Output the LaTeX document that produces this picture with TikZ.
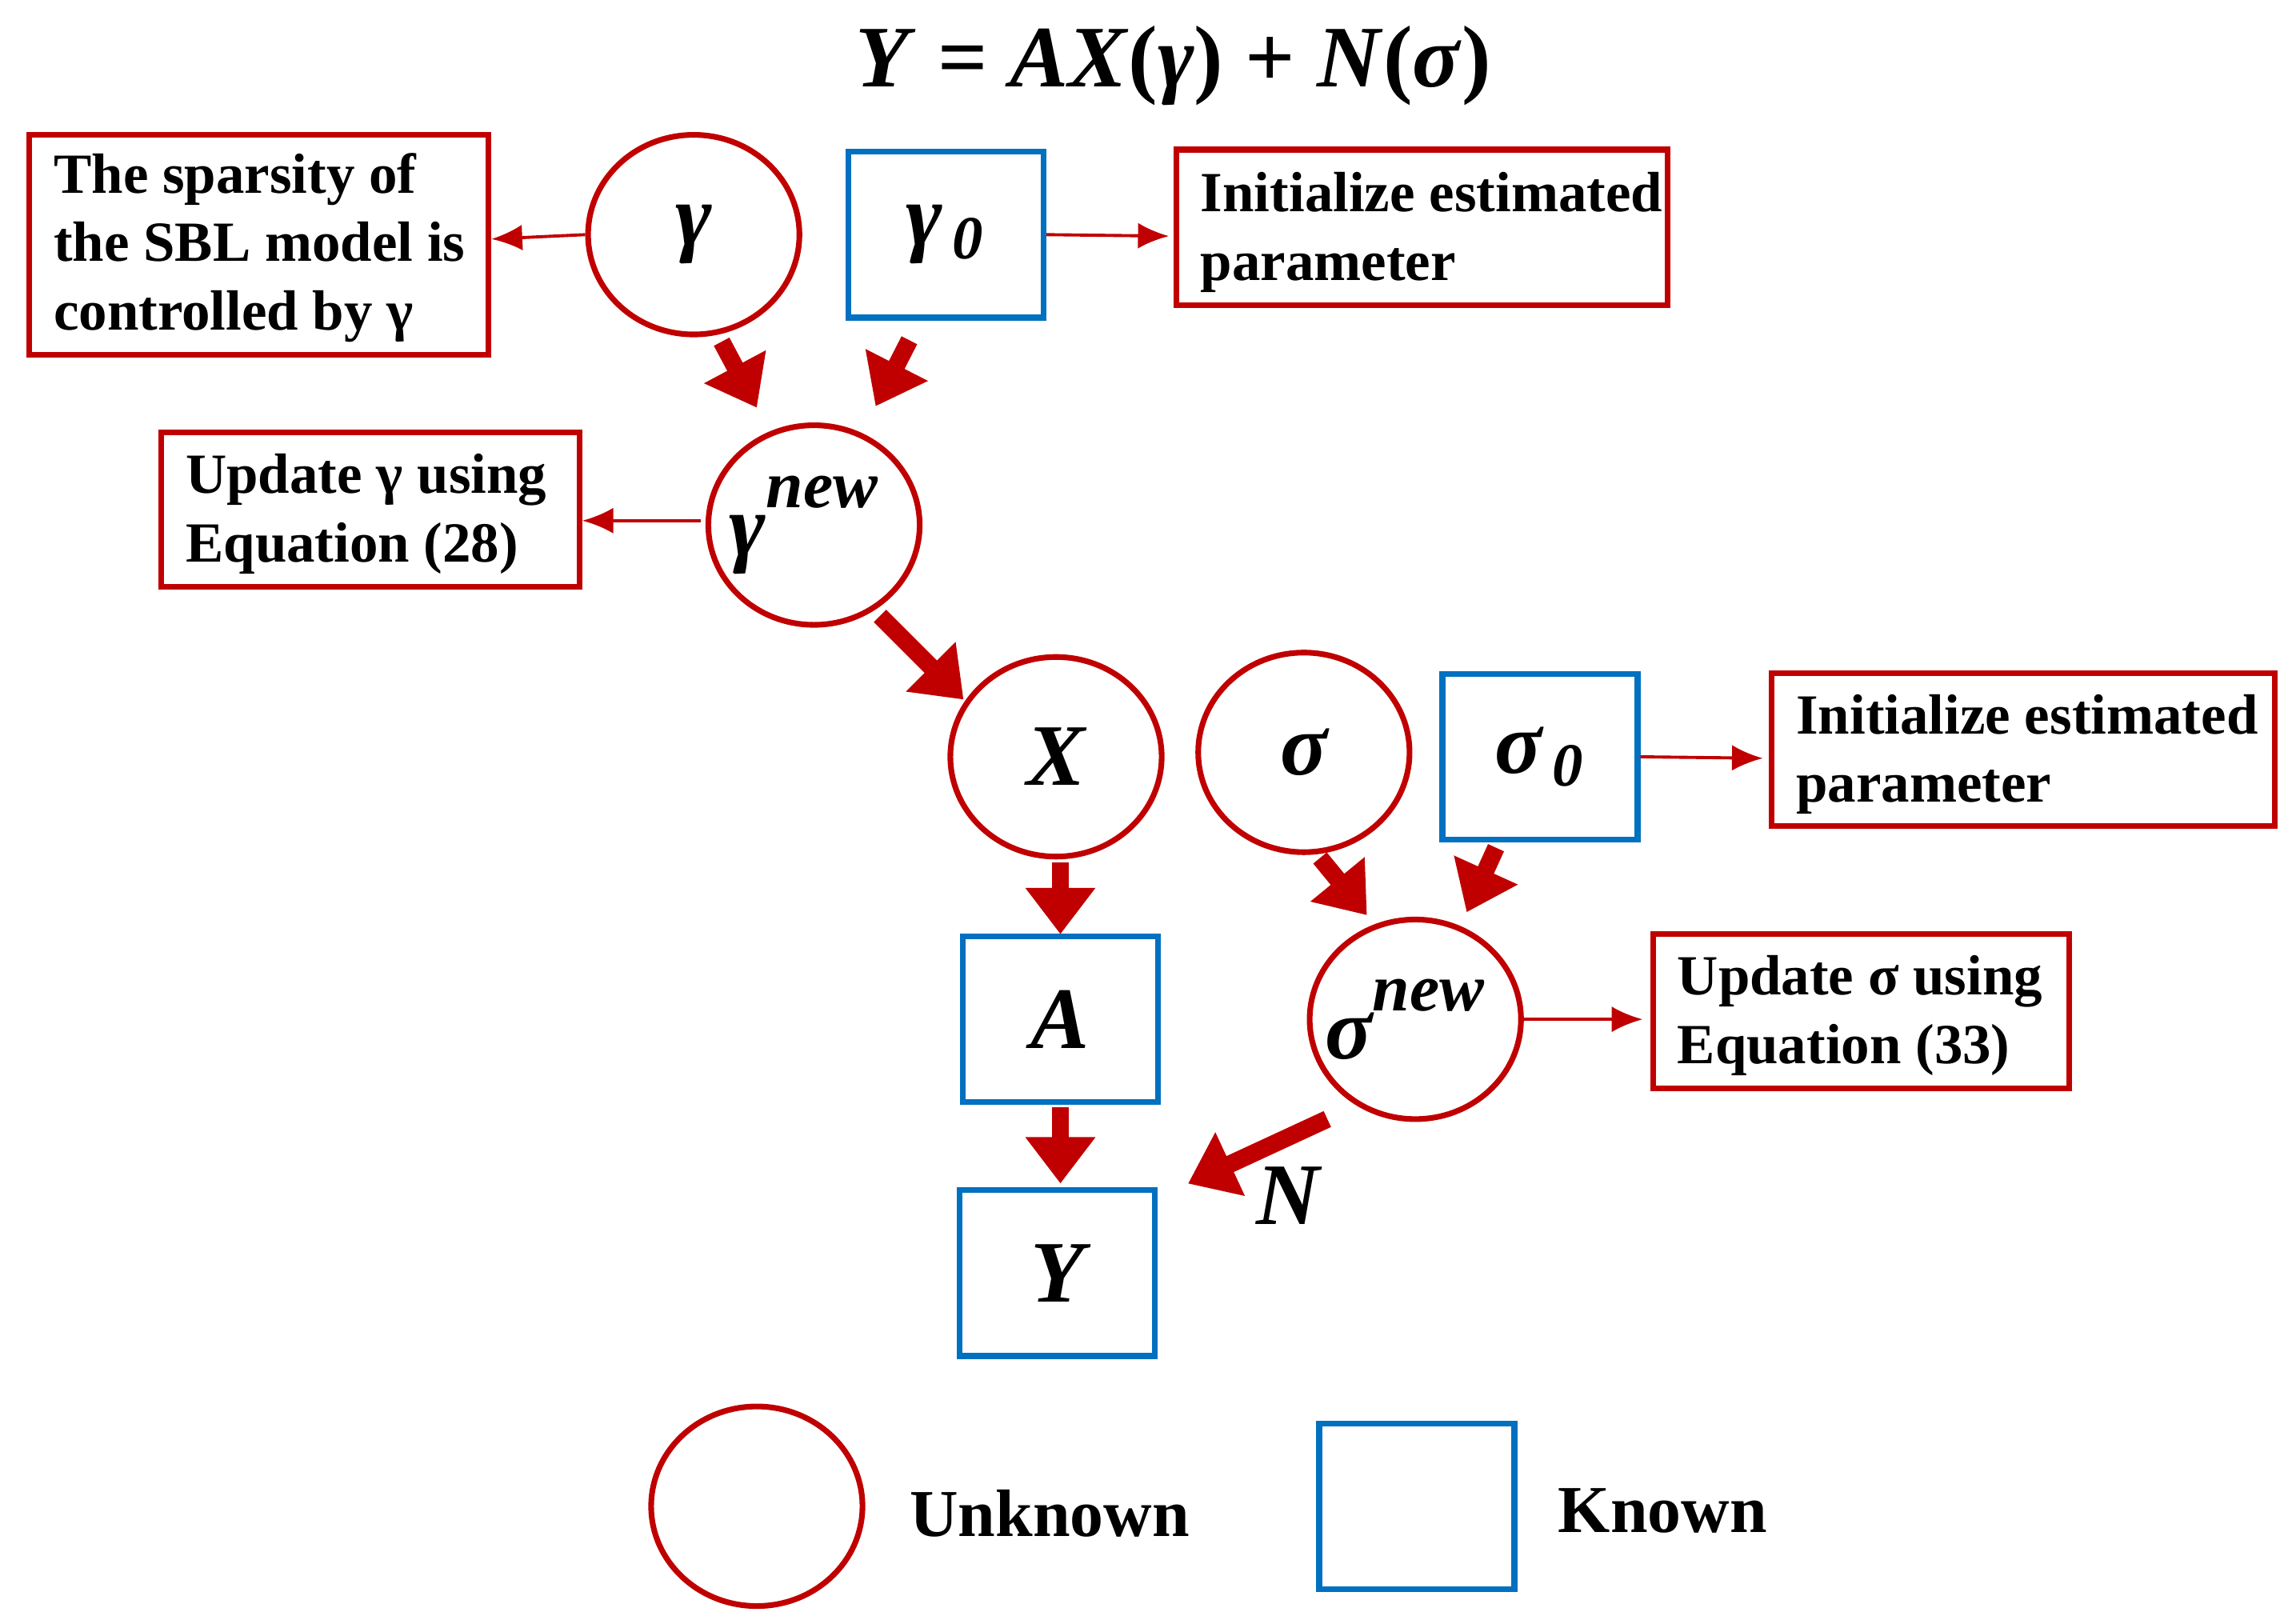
\documentclass[tikz,border=0pt]{standalone}
\usepackage{fontspec}
\setmainfont{Liberation Serif}
\usetikzlibrary{arrows.meta,shapes.geometric}
\definecolor{dred}{RGB}{192,0,0}
\definecolor{dblue}{RGB}{0,112,192}
\newcommand{\bi}[1]{\textbf{\textit{#1}}}
\tikzset{
 unk/.style={ellipse,draw=dred,line width=1.1pt,minimum width=1.44cm,minimum height=1.36cm,inner sep=0pt,font=\fontsize{17}{20}\selectfont\bfseries\itshape},
 kn/.style={rectangle,draw=dblue,line width=1.1pt,minimum width=1.33cm,minimum height=1.13cm,inner sep=0pt,font=\fontsize{17}{20}\selectfont\bfseries\itshape},
 note/.style={rectangle,draw=dred,line width=1.1pt,align=left,anchor=north west,inner sep=0pt,font=\fontsize{11}{13.2}\selectfont\bfseries},
 thin/.style={-{Latex[length=6pt,width=5pt]},draw=dred,line width=0.6pt},
 thick/.style={-{Triangle[length=9pt,width=13pt]},draw=dred,line width=3.4pt}
}
\begin{document}
\begin{tikzpicture}[x=0.01cm,y=-0.01cm]
\useasboundingbox (0,0) rectangle (1560,1107);
\node (title) at (800,45) {\fontsize{17}{20}\selectfont\bi{Y} \textbf{=} \bi{AX}\textbf{(}\bi{γ}\textbf{)} \textbf{+} \bi{N}\textbf{(}\bi{σ}\textbf{)}};
% boxes
\draw[dred,line width=1.1pt] (20,92) rectangle (333,242);
\node[anchor=north west,align=left,font=\fontsize{11}{13.2}\selectfont\bfseries,inner sep=0pt] (n1) at (36,104) {The sparsity of\\the SBL model is\\controlled by γ};
\draw[dred,line width=1.1pt] (802,102) rectangle (1137,208);
\node[anchor=north west,align=left,font=\fontsize{11}{13.2}\selectfont\bfseries,inner sep=0pt] (n2) at (818,117) {Initialize estimated\\parameter};
\draw[dred,line width=1.1pt] (110,295) rectangle (395,400);
\node[anchor=north west,align=left,font=\fontsize{11}{13.2}\selectfont\bfseries,inner sep=0pt] (n3) at (126,309) {Update γ using\\Equation (28)};
\draw[dred,line width=1.1pt] (1208,459) rectangle (1551,563);
\node[anchor=north west,align=left,font=\fontsize{11}{13.2}\selectfont\bfseries,inner sep=0pt] (n4) at (1224,473) {Initialize estimated\\parameter};
\draw[dred,line width=1.1pt] (1127,637) rectangle (1411,742);
\node[anchor=north west,align=left,font=\fontsize{11}{13.2}\selectfont\bfseries,inner sep=0pt] (n5) at (1143,651) {Update σ using\\Equation (33)};
% main nodes
\node[unk] (g) at (473,160) {γ};
\node[kn] (g0) at (645,160) {γ\textsubscript{\,0}};
\node[unk] (gn) at (555,358) {\hspace*{-4pt}γ\raisebox{1.2ex}{\fontsize{13}{14}\selectfont new}};
\node[unk] (X) at (720,516) {X};
\node[unk] (s) at (889,513) {σ};
\node[kn] (s0) at (1050,516) {σ\textsubscript{\,0}};
\node[unk] (sn) at (965,695) {\hspace*{-4pt}σ\raisebox{1.2ex}{\fontsize{13}{14}\selectfont new}};
\node[kn] (A) at (723,695) {A};
\node[kn] (Y) at (721,868) {Y};
\node[font=\fontsize{17}{20}\selectfont\bfseries\itshape] (N) at (878,815) {N};
% thin arrows
\draw[thin] (g.west) -- (335,163);
\draw[thin] (g0.east) -- (797,161);
\draw[thin] (478,355) -- (397,355);
\draw[thin] (s0.east) -- (1202,517);
\draw[thin] (sn.east) -- (1120,695);
% thick arrows
\coordinate (a1) at (492,233); \coordinate (b1) at (516,278);
\coordinate (a2) at (620,232); \coordinate (b2) at (597,277);
\coordinate (a3) at (600,420); \coordinate (b3) at (657,477);
\coordinate (a4) at (723,588); \coordinate (b4) at (723,637);
\coordinate (a5) at (723,755); \coordinate (b5) at (723,807);
\coordinate (a6) at (900,585); \coordinate (b6) at (932,624);
\coordinate (a7) at (1020,578); \coordinate (b7) at (1000,622);
\coordinate (a8) at (905,763); \coordinate (b8) at (810,807);
\foreach \i in {1,...,8} \draw[thick] (a\i) -- (b\i);
% legend
\node[unk] (lu) at (516,1027) {};
\node[anchor=west,font=\fontsize{13}{15}\selectfont\bfseries] (lut) at (608,1032) {Unknown};
\node[kn] (lk) at (966,1027) {};
\node[anchor=west,font=\fontsize{13}{15}\selectfont\bfseries] (lkt) at (1050,1030) {Known};
\end{tikzpicture}
\end{document}
